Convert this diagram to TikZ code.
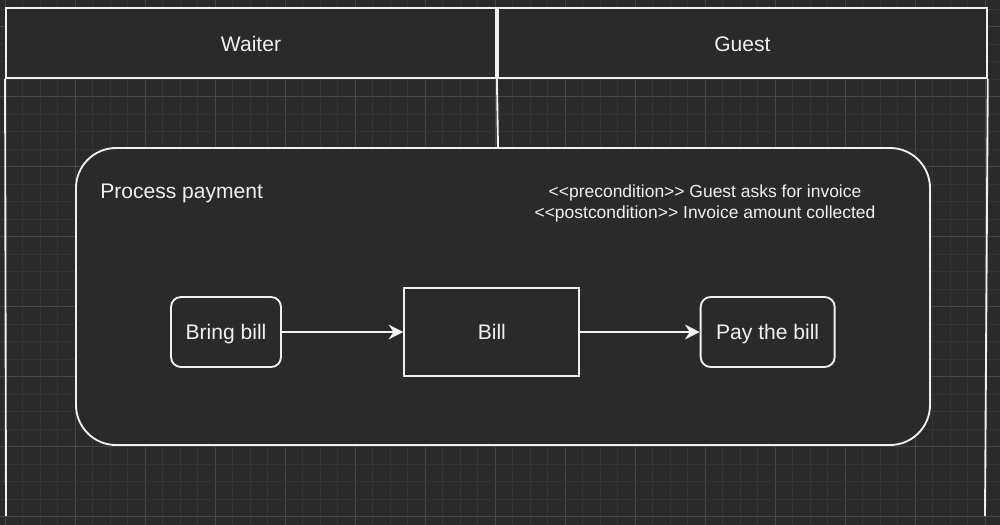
\documentclass[tikz,border=0pt]{standalone}
\usepackage{fontspec}
\setmainfont{Liberation Sans}
\usetikzlibrary{positioning,arrows.meta}
\definecolor{canvas}{HTML}{2A2A2A}
\definecolor{gridminor}{HTML}{353535}
\definecolor{gridmajor}{HTML}{464646}
\definecolor{ink}{HTML}{F0F0F0}
\newcommand{\stereo}[1]{<\kern0pt<#1>\kern0pt>}

\begin{document}
\begin{tikzpicture}[x=0.75pt,y=-0.75pt,
  every node/.style={text=ink, font=\fontsize{15.8}{18}\selectfont},
  line/.style={draw=ink, line width=1.4pt},
  header/.style={line, fill=canvas, minimum height=52.5pt, inner sep=0pt, text height=12.5pt},
  action/.style={line, fill=canvas, rounded corners=7.5pt, minimum height=52.5pt, text height=12pt, text depth=0.7pt},
  flow/.style={line, -{Stealth[length=11pt,width=11pt,inset=3.5pt]}}]

\useasboundingbox (0,0) rectangle (1000,525);
\fill[canvas] (0,0) rectangle (1000,525);
% grid
\foreach \k in {0,...,56} {
  \pgfmathtruncatemacro{\m}{mod(\k,4)}
  \ifnum\m=0 \def\gc{gridmajor}\else \def\gc{gridminor}\fi
  \draw[\gc, line width=0.75pt] ({5.3+17.5*\k},0) -- ({5.3+17.5*\k},525);
}
\foreach \k in {0,...,29} {
  \pgfmathtruncatemacro{\m}{mod(\k,4)}
  \ifnum\m=1 \def\gc{gridmajor}\else \def\gc{gridminor}\fi
  \draw[\gc, line width=0.75pt] (0,{9.2+17.5*\k}) -- (1000,{9.2+17.5*\k});
}

% lanes
\node[header, minimum width=367.5pt] (waiter) at (251,43) {Waiter};
\node[header, minimum width=366.75pt, right=0pt of waiter.east, anchor=west] (guest) {Guest};
\coordinate (laneL) at (6,516);
\coordinate (laneR) at (985,516);
\coordinate (divEnd) at (498,148);
\draw[line] (waiter.south west) -- (laneL);
\draw[line] (guest.south east) -- (laneR);
\draw[line] (waiter.south east) -- (divEnd);

% sub-process
\node[line, fill=canvas, rounded corners=30pt, minimum width=640.5pt, minimum height=222.75pt] (payment) at (503,296.5) {};
\node[anchor=west, inner sep=0pt] (title) at (100,193) {Process payment};
\node[align=center, font=\fontsize{13.1}{15.75}\selectfont] (cond) at (705,203.5)
  {\stereo{precondition} Guest asks for invoice\\
   \stereo{postcondition} Invoice amount collected};

\node[action, minimum width=82.5pt] (bring) at (226,332) {Bring bill};
\node[action, rounded corners=0pt, minimum width=131.25pt, minimum height=66pt, right=91.1pt of bring] (bill) {Bill};
\node[action, minimum width=100.5pt, right=89.6pt of bill] (pay) {Pay the bill};

\draw[flow] (bring) -- (bill);
\draw[flow] (bill) -- (pay);

\end{tikzpicture}
\end{document}
